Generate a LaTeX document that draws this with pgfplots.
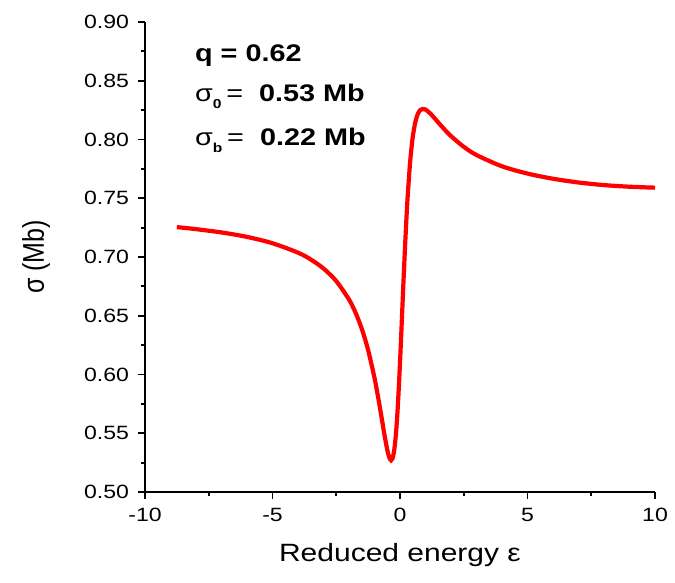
\documentclass[border=0pt]{standalone}
\usepackage{fontspec}
\setmainfont{Liberation Sans}
\usepackage{pgfplots}
\pgfplotsset{compat=1.18}
% the reference text is stretched sideways by about 1.2
\newcommand{\wide}[1]{\scalebox{1.2}[1]{#1}}

\begin{document}
\begin{tikzpicture}
\begin{axis}[
  scale only axis,
  width=255pt, height=235pt,
  xmin=-10, xmax=10, ymin=0.50, ymax=0.90,
  axis x line*=bottom, axis y line*=left,
  axis line style={line width=1pt},
  xtick={-10,-5,0,5,10},
  ytick={0.50,0.55,...,0.901},
  minor x tick num=1, minor y tick num=1,
  tick align=outside,
  major tick length=3.5pt, minor tick length=2pt,
  tick style={line width=0.9pt, black},
  /pgf/number format/assume math mode=true,
  tick label style={font=\fontsize{9.6}{11}\selectfont},
  xticklabel={\wide{\pgfmathprintnumber{\tick}}},
  yticklabel={\wide{\pgfmathprintnumber[fixed,fixed zerofill,precision=2]{\tick}}},
  xticklabel style={yshift=-1pt},
  yticklabel style={xshift=-1pt},
  xlabel={\wide{Reduced energy ε}},
  ylabel={\scalebox{1}[1.2]{σ (Mb)}},
  label style={font=\fontsize{12.5}{14}\selectfont},
  xlabel style={at={(axis description cs:0.5,-0.134)}, anchor=center},
  ylabel style={at={(axis description cs:-0.2137,0.5)}, anchor=center},
  clip=false,
]
\addplot[color=red, line width=2.1pt, smooth] coordinates {
(-8.75,0.7254)(-8.5,0.7249)(-8,0.7237)(-7,0.7209)(-6,0.7171)(-5,0.7117)
(-4,0.7037)(-3.5,0.6979)(-3,0.6902)(-2.5,0.6795)(-2,0.6638)(-1.75,0.6529)
(-1.5,0.6390)(-1.25,0.6208)(-1.0,0.5971)(-0.9,0.5857)(-0.8,0.5734)
(-0.7,0.5605)(-0.6,0.5475)(-0.5,0.5360)(-0.45,0.5314)(-0.4,0.5283)
(-0.35,0.5270)(-0.3,0.5282)(-0.25,0.5324)(-0.2,0.5402)(-0.15,0.5520)
(-0.1,0.5678)(-0.05,0.5874)(0,0.6100)(0.05,0.6348)(0.1,0.6605)
(0.15,0.6859)(0.2,0.7098)(0.25,0.7318)(0.3,0.7512)(0.4,0.7816)
(0.5,0.8021)(0.6,0.8146)(0.7,0.8218)(0.8,0.8252)(0.9,0.8260)
(1.0,0.8255)(1.2,0.8219)(1.4,0.8170)(1.7,0.8096)(2,0.8029)(2.5,0.7938)
(3,0.7868)(4,0.7772)(5,0.7710)(6,0.7666)(7,0.7634)(8,0.7612)(9,0.7598)(10,0.7590)
};
\node[anchor=west, inner sep=0pt, font=\fontsize{12}{13}\selectfont\bfseries]
  at (axis cs:-8.05,0.871) {\wide{q = 0.62}};
\node[anchor=west, inner sep=0pt, font=\fontsize{12}{13}\selectfont]
  at (axis cs:-8.05,0.837) {\wide{σ\raisebox{-0.55ex}{\fontsize{6.5}{7}\selectfont\bfseries 0}\,= \ \textbf{0.53 Mb}}};
\node[anchor=west, inner sep=0pt, font=\fontsize{12}{13}\selectfont]
  at (axis cs:-8.05,0.799) {\wide{σ\raisebox{-0.55ex}{\fontsize{6.5}{7}\selectfont\bfseries b}\,= \ \textbf{0.22 Mb}}};
\coordinate (bl) at (axis description cs:-0.2843,-0.1915);
\coordinate (tr) at (axis description cs:1.0392,1.0468);
\end{axis}
\pgfresetboundingbox
\useasboundingbox (bl) rectangle (tr);
\end{tikzpicture}
\end{document}
